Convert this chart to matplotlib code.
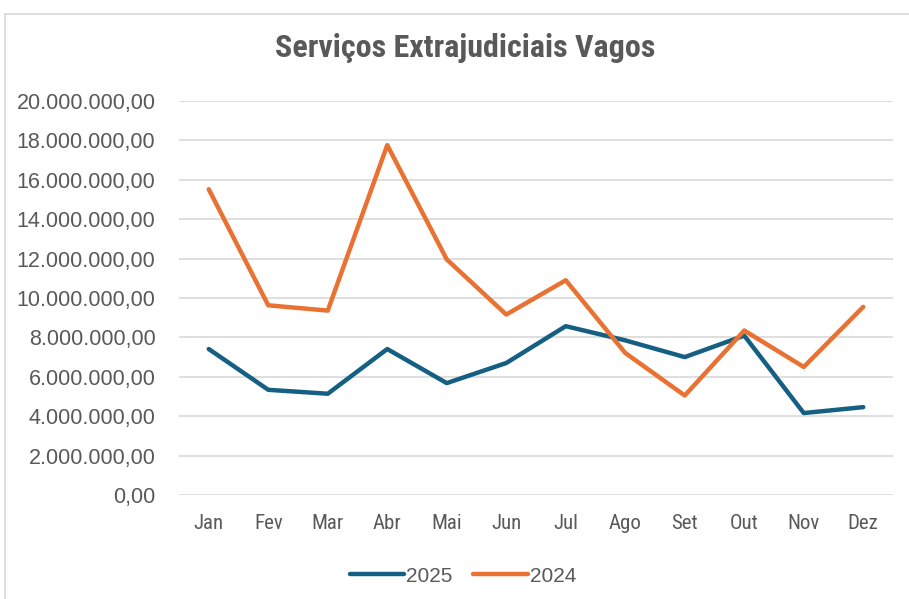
import matplotlib
matplotlib.use("Agg")
import matplotlib.pyplot as plt
from matplotlib.ticker import FuncFormatter, MultipleLocator
from matplotlib.patches import Rectangle

months = ["Jan", "Fev", "Mar", "Abr", "Mai", "Jun", "Jul", "Ago", "Set", "Out", "Nov", "Dez"]
vagos_2025 = [7.41, 5.34, 5.14, 7.41, 5.68, 6.70, 8.57, 7.85, 7.00, 8.09, 4.16, 4.46]
vagos_2024 = [15.52, 9.63, 9.36, 17.76, 11.96, 9.16, 10.90, 7.21, 5.05, 8.35, 6.50, 9.55]
vagos_2025 = [v * 1e6 for v in vagos_2025]
vagos_2024 = [v * 1e6 for v in vagos_2024]

text_color = "#595959"
narrow = ["Roboto Condensed", "DejaVu Sans"]
plain = ["Liberation Sans", "DejaVu Sans"]
plt.rcParams["font.family"] = plain


def brl(x, pos):
    # 1234567.5 -> "1.234.567,50"
    s = f"{x:,.2f}"
    return s.replace(",", "X").replace(".", ",").replace("X", ".")


fig = plt.figure(figsize=(9.09, 5.99), dpi=100)
ax = fig.add_axes([179 / 909, 1 - 495 / 599, (893 - 179) / 909, (495 - 101) / 599])

x = list(range(len(months)))
ax.plot(x, vagos_2025, color="#156082", lw=3.2, label="2025", solid_capstyle="round")
ax.plot(x, vagos_2024, color="#E97132", lw=3.2, label="2024", solid_capstyle="round")

ax.set_xlim(-0.5, len(months) - 0.5)
ax.set_ylim(0, 20e6)
ax.yaxis.set_major_locator(MultipleLocator(2e6))
ax.yaxis.set_major_formatter(FuncFormatter(brl))
ax.set_xticks(x)
ax.set_xticklabels(months, family=narrow, fontsize=15)
ax.grid(axis="y", color="#d9d9d9", lw=1.2)
ax.set_axisbelow(True)
for s in ax.spines.values():
    s.set_visible(False)
ax.tick_params(length=0, colors=text_color)
ax.tick_params(axis="y", labelsize=15.5, pad=17)
ax.tick_params(axis="x", pad=14)

fig.text(465 / 909, 1 - 48 / 599, "Serviços Extrajudiciais Vagos", ha="center", va="center",
         fontsize=23, fontweight="bold", color=text_color, family=narrow)

fig.legend(loc="center", bbox_to_anchor=(463 / 909, 1 - 576 / 599), ncol=2, frameon=False,
           fontsize=15, handlelength=2.6, handletextpad=0.12, columnspacing=1.0,
           labelcolor=text_color)

fig.patches.append(Rectangle((5 / 909, -0.1), 1.0, 1 - 14 / 599 + 0.1, transform=fig.transFigure,
                             fill=False, edgecolor="#d9d9d9", lw=1.2))

fig.savefig("out.png", dpi=100)
